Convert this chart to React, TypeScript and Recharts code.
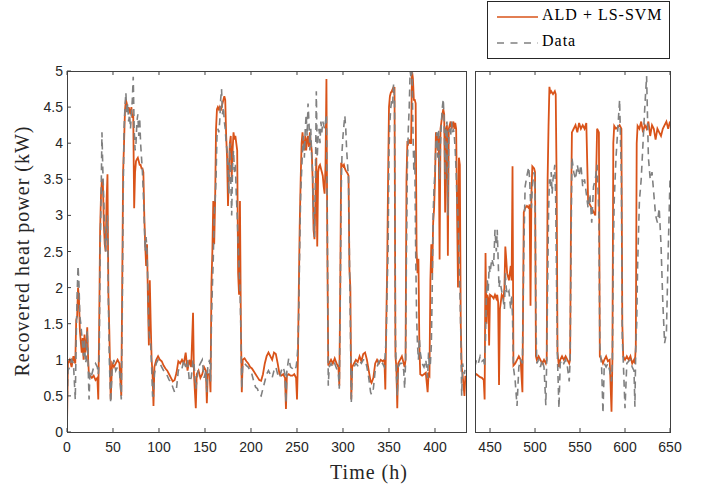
import React from 'react';
import { LineChart, Line, XAxis, YAxis } from 'recharts';

// hours, ALD + LS-SVM estimate, measured data (kW) — left panel 0..433 h
const leftHours = [
  0, 1, 3, 5, 7, 9, 10, 11, 12, 13,
  14, 15, 16, 17, 18, 19, 20, 21, 22, 23,
  24, 25, 27, 29, 31, 33, 34, 35, 36, 37,
  38, 39, 40, 41, 42, 43, 44, 45, 46, 47.5,
  49, 51, 53, 55, 57, 59, 60, 61, 62, 63,
  64, 65, 66, 67, 68, 69, 70, 71, 72, 73,
  74, 75, 76, 77, 78, 79, 80, 81, 82, 83,
  84, 85, 86, 87, 88, 89, 90, 91, 92, 93,
  94, 95, 97, 99, 101, 103, 105, 107, 109, 111,
  113, 115, 117, 119, 121, 123, 125, 127, 129, 131,
  133, 135, 137, 138, 140, 141, 143, 145, 147, 149,
  151, 152, 153, 155, 156, 157, 158, 159, 160, 161,
  162, 163, 164, 165, 166, 167, 168, 169, 170, 171,
  172, 173, 174, 175, 176, 177, 178, 179, 180, 181,
  182, 183, 184, 185, 186, 187, 188, 189, 190, 191,
  193, 195, 197, 199, 201, 203, 205, 207, 209, 211,
  213, 215, 217, 219, 221, 223, 225, 227, 229, 231,
  233, 235, 237, 238, 239, 241, 243, 245, 247, 249,
  250, 251, 252, 253, 254, 255, 256, 257, 258, 259,
  260, 261, 262, 263, 264, 265, 266, 267, 268, 269,
  270, 271, 272, 273, 274, 275, 276, 277, 278, 279,
  280, 281, 282, 283, 284, 285, 287, 289, 291, 293,
  295, 296, 297, 298, 299, 300, 301, 302, 303, 304,
  305, 306, 307, 308, 309, 310, 312, 314, 316, 318,
  320, 322, 324, 326, 328, 330, 331, 333, 335, 337,
  339, 341, 343, 345, 346, 347, 348, 349, 350, 351,
  352, 353, 354, 355, 356, 357, 358, 359, 360, 362,
  364, 366, 367, 368, 369, 370, 371, 372, 373, 374,
  375, 376, 377, 378, 379, 380, 381, 382, 383, 384,
  386, 388, 390, 392, 393, 394, 395, 396, 397, 398,
  399, 400, 401, 402, 403, 404, 405, 406, 407, 408,
  409, 410, 411, 412, 413, 414, 415, 416, 417, 418,
  419, 420, 421, 422, 423, 424, 425, 426, 427, 428,
  429, 430, 432, 433,
];
const leftModel = [
  0.1, 0.95, 1.0, 0.9, 1.05, 0.95, 1.55, 1.6, 2.0, 1.85,
  1.4, 1.25, 1.1, 1.3, 1.0, 1.35, 1.1, 1.2, 1.45, 1.0,
  0.75, 0.78, 0.75, 0.78, 0.72, 0.75, 0.45, 1.5, 2.8, 3.3,
  3.5, 3.45, 2.9, 2.6, 2.5, 3.2, 3.57, 1.9, 1.4, 0.45,
  0.95, 0.9, 0.95, 1.0, 0.95, 0.5, 2.0, 3.6, 4.0, 4.45,
  4.6, 4.55, 4.45, 4.5, 4.45, 4.4, 4.5, 4.35, 4.4, 3.1,
  3.6, 3.75, 3.78, 3.8, 3.75, 3.7, 3.7, 3.65, 3.65, 3.6,
  3.0, 2.6, 2.3, 2.6, 1.8, 1.2, 2.1, 1.5, 1.0, 0.8,
  0.36, 0.9, 1.0, 1.05, 1.0, 0.98, 0.92, 0.88, 0.85, 0.8,
  0.75, 0.7, 0.72, 0.82, 0.98, 0.95, 1.0, 0.95, 1.1, 0.85,
  1.0, 0.9, 1.65, 0.8, 0.33, 0.8, 0.85, 0.75, 0.8, 0.9,
  0.85, 0.4, 0.8, 0.8, 0.55, 2.05, 2.5, 3.2, 2.6, 3.2,
  4.2, 4.47, 4.5, 4.47, 4.5, 4.45, 4.5, 4.55, 4.6, 4.65,
  4.6, 4.1, 3.8, 3.13, 3.6, 4.0, 4.1, 3.5, 3.9, 4.15,
  4.05, 4.1, 4.0, 3.9, 2.2, 1.9, 3.2, 1.5, 0.55, 1.0,
  1.02, 0.98, 0.95, 0.9, 0.88, 0.84, 0.8, 0.76, 0.72, 0.71,
  0.8, 0.95, 1.05, 1.1, 1.05, 1.0, 1.1, 1.08, 0.95, 0.8,
  0.78, 0.8, 0.75, 0.32, 0.78, 0.8, 0.78, 0.78, 0.8, 0.75,
  0.45, 1.0, 2.0, 2.9, 3.5, 4.0, 4.15, 4.0, 3.9, 4.1,
  3.9, 4.05, 4.1, 3.95, 4.15, 4.0, 3.9, 3.5, 2.8, 2.67,
  3.2, 3.8, 2.57, 3.6, 3.68, 3.7, 3.65, 3.6, 3.55, 3.4,
  3.3, 3.7, 4.89, 2.5, 0.92, 0.95, 1.0, 0.95, 1.02, 0.95,
  0.9, 0.64, 2.0, 3.73, 3.7, 3.68, 3.7, 3.65, 3.62, 3.6,
  3.58, 3.55, 2.25, 2.0, 0.45, 0.9, 0.95, 1.0, 0.97, 1.05,
  0.98, 1.08, 1.1, 1.0, 0.85, 0.7, 0.68, 0.75, 0.95, 1.0,
  0.95, 1.0, 0.98, 1.0, 0.59, 1.5, 2.25, 3.5, 4.5, 4.65,
  4.7, 4.72, 4.75, 4.7, 4.78, 1.05, 0.9, 0.33, 0.95, 1.0,
  1.05, 0.95, 0.9, 1.0, 3.5, 4.03, 4.0, 4.05, 4.0, 4.0,
  5.0, 4.9, 4.6, 4.6, 4.55, 2.5, 2.2, 2.4, 1.2, 0.8,
  0.78, 0.8, 0.82, 0.55, 0.8, 0.78, 2.1, 2.6, 2.2, 2.9,
  3.09, 3.5, 4.15, 4.1, 3.9, 4.1, 2.39, 4.2, 4.3, 4.4,
  4.47, 4.4, 3.04, 4.2, 4.25, 2.44, 4.2, 4.25, 4.3, 4.2,
  4.25, 4.3, 4.2, 4.28, 4.2, 3.04, 2.0, 3.8, 3.7, 1.5,
  0.9, 0.8, 0.5, 0.78,
];
const leftMeasured = [
  0.3, 0.85, 0.9, 1.0, 0.95, 0.45, 1.3, 1.9, 2.3, 2.05,
  1.6, 1.5, 1.35, 1.2, 1.05, 1.3, 0.95, 1.0, 1.4, 0.9,
  0.45, 0.85, 0.8, 0.9, 0.95, 0.9, 0.8, 1.0, 2.5, 3.2,
  4.15, 3.6, 3.2, 2.7, 2.5, 2.8, 3.0, 1.8, 1.0, 0.4,
  0.85, 1.0, 0.85, 0.9, 0.85, 0.45, 1.5, 3.2, 4.2, 4.5,
  4.7, 4.4, 4.55, 4.3, 4.4, 4.2, 4.4, 4.6, 4.92, 4.2,
  3.9, 4.0, 4.3, 4.4, 4.1, 4.35, 4.0, 3.8, 3.6, 3.3,
  2.9, 2.5, 2.7, 2.5, 2.0, 1.4, 1.3, 1.2, 0.9, 0.5,
  0.5, 0.8, 0.95, 1.0, 0.95, 0.9, 0.85, 0.8, 0.78, 0.72,
  0.7, 0.62, 0.55, 0.6, 0.85, 0.9, 0.88, 1.0, 0.9, 1.0,
  0.7, 0.75, 1.0, 0.95, 0.6, 0.7, 0.9, 0.95, 1.0, 0.75,
  0.85, 0.55, 0.9, 1.0, 0.7, 1.5, 2.0, 2.4, 3.0, 3.2,
  3.5, 4.1, 4.2, 4.15, 4.3, 4.6, 4.75, 4.4, 4.5, 4.3,
  4.2, 4.0, 3.9, 3.7, 3.3, 4.0, 3.5, 3.0, 3.7, 3.9,
  3.6, 3.7, 3.3, 3.0, 2.6, 2.3, 2.0, 1.4, 0.6, 0.95,
  0.95, 0.92, 0.9, 0.85, 0.8, 0.7, 0.62, 0.6, 0.52, 0.5,
  0.6, 0.7, 0.8, 0.85, 0.8, 0.75, 0.85, 0.9, 0.8, 0.75,
  0.85, 0.9, 0.8, 0.4, 0.85, 1.02, 0.9, 0.88, 0.85, 0.9,
  1.0, 1.2, 1.7, 2.6, 3.3, 3.6, 3.9, 4.1, 3.8, 4.2,
  4.4, 4.1, 4.55, 4.3, 3.9, 4.2, 3.8, 3.6, 3.0, 2.7,
  3.5, 4.72, 3.8, 4.1, 4.2, 4.0, 4.3, 4.15, 4.3, 4.25,
  4.2, 4.3, 4.4, 2.8, 0.64, 0.9, 0.95, 0.9, 0.95, 0.88,
  0.8, 0.6, 1.8, 3.3, 3.9, 4.1, 4.25, 4.38, 4.2, 3.9,
  3.7, 3.5, 2.4, 1.5, 0.4, 0.85, 0.9, 0.95, 0.92, 0.98,
  0.95, 1.0, 1.0, 0.9, 0.75, 0.55, 0.52, 0.6, 0.85, 0.9,
  0.98, 0.92, 0.95, 0.9, 1.1, 1.3, 2.0, 2.5, 3.9, 4.3,
  4.5, 4.6, 4.55, 4.82, 4.6, 1.3, 0.8, 0.5, 0.9, 0.95,
  0.95, 0.85, 0.6, 0.95, 2.5, 3.7, 4.2, 4.5, 5.0, 4.9,
  5.0, 4.2, 3.6, 3.9, 2.5, 1.6, 1.2, 1.0, 1.3, 1.1,
  0.95, 0.9, 1.0, 0.75, 1.1, 0.9, 0.95, 1.2, 2.0, 3.0,
  3.4, 3.6, 4.0, 4.15, 3.8, 4.2, 3.5, 4.0, 4.3, 4.5,
  4.61, 4.3, 3.5, 4.2, 4.3, 3.0, 4.15, 4.2, 4.1, 4.3,
  4.15, 4.2, 4.1, 3.9, 3.6, 3.2, 3.0, 2.5, 2.0, 1.4,
  0.5, 0.95, 0.8, 0.9,
];

// right panel 433..650 h
const rightHours = [
  433, 435, 437, 439, 441, 443, 444, 445, 446, 447,
  448, 449, 450, 452, 454, 455.5, 457, 458, 459, 460,
  461, 463, 465, 466, 467, 468, 469, 471, 473, 474,
  475, 476, 478, 480, 482, 484, 486, 487.5, 489, 491,
  493, 494, 495, 496, 497, 499, 500, 501, 502, 504,
  506, 508, 510, 512, 513, 514, 515, 516, 517, 518,
  519, 520, 521, 522, 523, 524, 525, 526.6, 528, 530,
  532, 534, 536, 538, 539, 540, 541, 543, 545, 547,
  549, 551, 553, 555, 557, 559, 561, 563, 565, 567,
  569, 571, 572, 574, 575.5, 577, 579, 581, 583, 585,
  586, 587, 588, 590, 592, 594, 596, 597, 598, 600,
  602, 604, 606, 608, 610, 611, 612, 613, 614, 616,
  618, 620, 622, 624, 626, 628, 630, 632, 634, 636,
  638, 640, 642, 644, 646, 648, 650,
];
const rightModel = [
  0.78, 0.8, 0.78, 0.76, 0.75, 0.72, 0.45, 2.48, 1.5, 1.9,
  1.85, 1.2, 1.9, 1.88, 1.85, 1.9, 1.85, 1.9, 1.8, 0.65,
  1.7, 1.9, 1.85, 2.0, 2.57, 2.4, 2.2, 2.1, 2.3, 2.1,
  3.68, 0.92, 0.95, 1.0, 1.05, 1.0, 0.55, 3.04, 3.1, 3.13,
  3.1, 3.15, 1.75, 3.3, 3.68, 3.65, 3.6, 1.05, 1.0, 1.05,
  1.0, 0.95, 1.0, 0.95, 1.0, 3.5, 4.23, 4.78, 4.7, 4.72,
  4.7, 4.68, 4.7, 4.72, 4.68, 3.5, 1.1, 0.9, 1.0, 1.05,
  1.0, 1.05, 1.0, 0.95, 1.0, 3.0, 4.15, 4.2, 4.25, 4.15,
  4.28, 4.2, 4.25, 4.2, 4.28, 3.2, 3.15, 3.1, 3.05, 3.0,
  4.2, 4.15, 1.05, 1.0, 0.95, 1.0, 1.05, 0.98, 1.0, 0.28,
  1.0, 4.0, 4.24, 4.2, 4.22, 4.25, 4.2, 1.5, 1.05, 1.0,
  1.05, 1.0, 1.05, 0.95, 1.0, 0.95, 1.2, 4.0, 4.24, 4.2,
  4.3, 4.15, 4.25, 4.2, 4.3, 4.1, 4.25, 4.2, 4.05, 4.2,
  4.15, 4.1, 4.2, 4.25, 4.3, 4.2, 4.3,
];
const rightMeasured = [
  0.9, 1.0, 0.95, 1.05, 0.98, 1.0, 0.9, 1.3, 1.9, 2.1,
  1.95, 2.3, 2.2, 2.4, 2.3, 2.8, 2.5, 2.8, 2.4, 2.0,
  2.1, 1.95, 1.8, 1.7, 2.2, 2.0, 1.9, 1.95, 1.7, 1.9,
  1.6, 0.9, 0.7, 0.36, 0.9, 1.0, 0.95, 2.5, 3.4, 3.55,
  3.67, 3.5, 3.2, 3.1, 3.4, 3.6, 3.5, 1.5, 0.95, 1.0,
  0.9, 1.0, 0.9, 0.37, 1.0, 2.0, 3.0, 3.5, 3.4, 3.6,
  3.3, 3.5, 3.6, 3.7, 3.2, 2.0, 1.0, 0.33, 0.95, 1.0,
  0.95, 1.0, 0.9, 0.7, 1.0, 2.5, 3.8, 3.6, 3.5, 3.7,
  3.55, 3.7, 3.4, 3.5, 3.3, 3.1, 3.3, 2.9, 3.4, 3.5,
  3.7, 3.0, 1.2, 0.9, 0.26, 0.95, 0.9, 0.95, 0.85, 0.7,
  1.0, 2.5, 3.2, 3.8, 4.2, 4.6, 3.5, 1.3, 1.0, 0.33,
  0.95, 0.98, 1.0, 0.9, 0.85, 0.35, 1.2, 1.5, 2.3, 3.2,
  3.5, 4.0, 4.5, 4.93, 3.8, 3.5, 3.6, 3.3, 3.0, 2.9,
  3.1, 2.6, 1.8, 1.23, 1.37, 2.5, 3.5,
];

const yTicks = [0, 0.5, 1, 1.5, 2, 2.5, 3, 3.5, 4, 4.5, 5];
const leftTicks = [0, 50, 100, 150, 200, 250, 300, 350, 400];
const rightTicks = [450, 500, 550, 600, 650];

const ORANGE = '#D95319';
const GRAY = '#808080';
const AXIS = '#262626';
const FRAME = '#404040';
const SERIF = '"Liberation Serif", "Times New Roman", serif';
const SANS = '"Liberation Sans", Arial, sans-serif';
const TICK_LEN = 4;

const toRows = (hours: number[], model: number[], measured: number[]) => {
  const n = Math.min(hours.length, model.length, measured.length);
  return hours.slice(0, n).map((t, i) => ({ t, model: model[i], measured: measured[i] }));
};

const leftRows = toRows(leftHours, leftModel, leftMeasured);
const rightRows = toRows(rightHours, rightModel, rightMeasured);

// inward MATLAB-style tick marks, drawn from the position recharts hands the tick
const BottomTick = (gap: number) => (props: any) => {
  const { x, y, payload } = props;
  const axisY = y - gap;
  return (
    <g>
      <line x1={x} y1={axisY} x2={x} y2={axisY - TICK_LEN} stroke={FRAME} />
      <text x={x} y={y} dy="0.71em" textAnchor="middle" fontFamily={SANS} fontSize={14} fill={AXIS}>
        {payload.value}
      </text>
    </g>
  );
};

const TopTick = (props: any) => {
  const { x, y } = props;
  return <line x1={x} y1={y} x2={x} y2={y + TICK_LEN} stroke={FRAME} />;
};

const LeftTick = (gap: number) => (props: any) => {
  const { x, y, payload } = props;
  const axisX = x + gap;
  return (
    <g>
      <line x1={axisX} y1={y} x2={axisX + TICK_LEN} y2={y} stroke={FRAME} />
      <text x={x} y={y} dy="0.36em" textAnchor="end" fontFamily={SANS} fontSize={14} fill={AXIS}>
        {payload.value}
      </text>
    </g>
  );
};

const RightTick = (props: any) => {
  const { x, y } = props;
  return <line x1={x} y1={y} x2={x - TICK_LEN} y2={y} stroke={FRAME} />;
};

interface PanelProps {
  rows: { t: number; model: number; measured: number }[];
  domain: [number, number];
  xTicks: number[];
  width: number;
  left: number;
  yTicksShown: boolean;
  margin: { top: number; right: number; bottom: number; left: number };
}

const Panel: React.FC<PanelProps> = ({ rows, domain, xTicks, width, left, yTicksShown, margin }) => (
  <div style={{ position: 'absolute', left, top: 0 }}>
    <LineChart width={width} height={488} data={rows} margin={margin}>
      <XAxis
        xAxisId="b"
        type="number"
        dataKey="t"
        domain={domain}
        ticks={xTicks}
        interval={0}
        allowDataOverflow
        height={30}
        tickSize={0}
        tickMargin={10}
        axisLine={false}
        tickLine={false}
        tick={BottomTick(10)}
      />
      <XAxis
        xAxisId="top"
        orientation="top"
        type="number"
        dataKey="t"
        domain={domain}
        ticks={xTicks}
        interval={0}
        allowDataOverflow
        height={1}
        tickSize={0}
        tickMargin={0}
        axisLine={false}
        tickLine={false}
        tick={TopTick}
      />
      <YAxis
        yAxisId="l"
        type="number"
        domain={[0, 5]}
        ticks={yTicks}
        interval={0}
        width={yTicksShown ? 60 : 1}
        tickSize={0}
        tickMargin={4}
        axisLine={false}
        tickLine={false}
        tick={yTicksShown ? LeftTick(4) : false}
      />
      <YAxis
        yAxisId="r"
        orientation="right"
        type="number"
        domain={[0, 5]}
        ticks={yTicks}
        interval={0}
        width={1}
        tickSize={0}
        tickMargin={0}
        axisLine={false}
        tickLine={false}
        tick={yTicksShown ? RightTick : false}
      />
      <Line
        xAxisId="b"
        yAxisId="l"
        type="linear"
        dataKey="model"
        stroke={ORANGE}
        strokeWidth={1.8}
        dot={false}
        activeDot={false}
        isAnimationActive={false}
      />
      <Line
        xAxisId="b"
        yAxisId="l"
        type="linear"
        dataKey="measured"
        stroke={GRAY}
        strokeWidth={1.6}
        strokeDasharray="7 5"
        dot={false}
        activeDot={false}
        isAnimationActive={false}
      />
    </LineChart>
  </div>
);

const frameStyle = (left: number, right: number): React.CSSProperties => ({
  position: 'absolute',
  left,
  top: 71,
  width: right - left + 1,
  height: 362,
  boxSizing: 'border-box',
  border: `1px solid ${FRAME}`,
  pointerEvents: 'none',
});

export default function App() {
  return (
    <div style={{ position: 'absolute', left: 0, top: 0, width: 707, height: 488, background: '#fff' }}>
      <Panel
        rows={leftRows}
        domain={[0, 433.7]}
        xTicks={leftTicks}
        width={470}
        left={0}
        yTicksShown
        margin={{ top: 70, right: 3, bottom: 26, left: 7 }}
      />
      <Panel
        rows={rightRows}
        domain={[433.3, 650]}
        xTicks={rightTicks}
        width={237}
        left={470}
        yTicksShown={false}
        margin={{ top: 70, right: 36, bottom: 26, left: 4 }}
      />
      <div style={frameStyle(67, 466)} />
      <div style={frameStyle(475, 670)} />

      {/* legend */}
      <div
        style={{
          position: 'absolute',
          left: 487,
          top: 1,
          width: 181,
          height: 56,
          border: `1px solid ${AXIS}`,
          background: '#fff',
        }}
      >
        <svg width={50} height={56} style={{ position: 'absolute', left: 0, top: 0 }}>
          <line x1={9} y1={15} x2={51} y2={15} stroke={ORANGE} strokeWidth={1.5} />
          <line x1={9} y1={41} x2={51} y2={41} stroke={GRAY} strokeWidth={1.3} strokeDasharray="7 6.5" />
        </svg>
        <div style={{ position: 'absolute', left: 54, top: 4, fontFamily: SERIF, fontSize: 16, letterSpacing: 1, color: '#000', whiteSpace: 'nowrap' }}>
          ALD + LS-SVM
        </div>
        <div style={{ position: 'absolute', left: 54, top: 30, fontFamily: SERIF, fontSize: 16, letterSpacing: 1, color: '#000', whiteSpace: 'nowrap' }}>
          Data
        </div>
      </div>

      {/* axis titles */}
      <div
        style={{
          position: 'absolute',
          left: 369,
          top: 472,
          transform: 'translate(-50%, -50%)',
          fontFamily: SERIF,
          fontSize: 20,
          letterSpacing: 1,
          color: AXIS,
          whiteSpace: 'nowrap',
        }}
      >
        Time (h)
      </div>
      <div
        style={{
          position: 'absolute',
          left: 22,
          top: 251,
          transform: 'translate(-50%, -50%) rotate(-90deg)',
          fontFamily: SERIF,
          fontSize: 20,
          letterSpacing: 1,
          color: AXIS,
          whiteSpace: 'nowrap',
        }}
      >
        Recovered heat power (kW)
      </div>
    </div>
  );
}
